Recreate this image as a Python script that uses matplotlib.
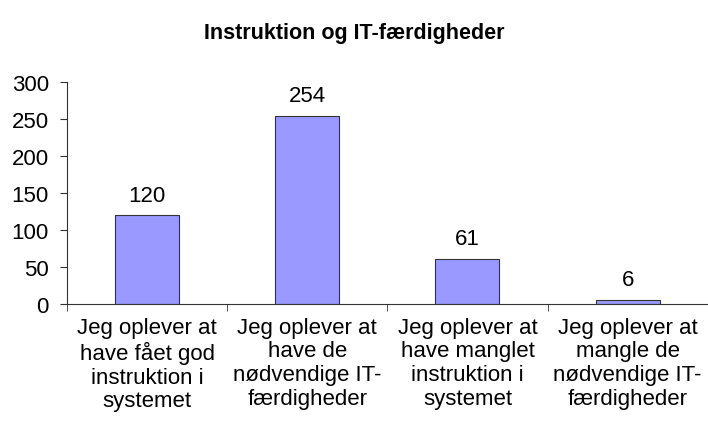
import matplotlib
matplotlib.use("Agg")
import matplotlib.pyplot as plt
import numpy as np

categories = [
    "Jeg oplever at\nhave fået god\ninstruktion i\nsystemet",
    "Jeg oplever at\nhave de\nnødvendige IT-\nfærdigheder",
    "Jeg oplever at\nhave manglet\ninstruktion i\nsystemet",
    "Jeg oplever at\nmangle de\nnødvendige IT-\nfærdigheder",
]
values = [120, 254, 61, 6]
yticks = [0, 50, 100, 150, 200, 250, 300]
title = "Instruktion og IT-færdigheder"

plt.rcParams['font.family'] = ['Liberation Sans', 'DejaVu Sans']

fig = plt.figure(figsize=(7.08, 4.39), dpi=100)
ax = fig.add_axes([0.0946, 0.305, 0.905, 0.506])

fs = 16
x = np.arange(len(values))
ax.bar(x, values, width=0.4, color="#9999FF", edgecolor="#333333", linewidth=0.8, zorder=2)
for xi, v in zip(x, values):
    ax.annotate(str(v), (xi, v), xytext=(0, 7), textcoords="offset points",
                ha="center", va="bottom", fontsize=fs, color="black")

ax.set_xlim(-0.5, len(values) - 0.5)
ax.set_ylim(0, 300)
ax.set_yticks(yticks)
ax.set_yticklabels([str(t) for t in yticks], fontsize=fs)
ax.set_xticks(x)
ax.set_xticklabels(categories, fontsize=fs, linespacing=1.17)
ax.set_xticks(np.arange(-0.5, len(values) + 0.5, 1.0), minor=True)
ax.tick_params(axis="x", which="major", length=0, pad=9)
ax.tick_params(axis="x", which="minor", length=5, direction="out", color="#333333")
ax.tick_params(axis="y", length=5, direction="out", color="#333333", pad=8)

for s in ["top", "right"]:
    ax.spines[s].set_visible(False)
ax.spines["left"].set_color("#333333")
ax.spines["bottom"].set_color("#333333")

fig.text(0.5, 1 - 33 / 439, title, ha="center", va="center", fontsize=15.5, fontweight="bold")

fig.savefig("out.png", dpi=100)
